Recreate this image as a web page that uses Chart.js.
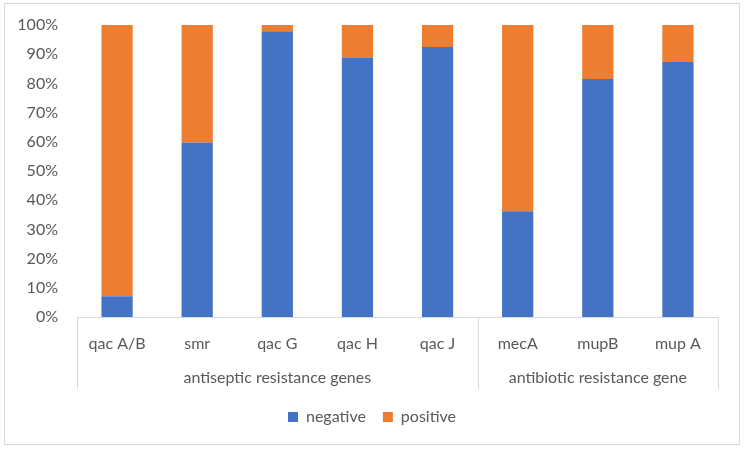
<!DOCTYPE html>
<html>
<head>
<meta charset="utf-8">
<script src="https://cdn.jsdelivr.net/npm/chart.js@4"></script>
<style>
  html, body { margin: 0; padding: 0; background: #fff; }
  #wrap { position: relative; width: 744px; height: 449px; }
</style>
</head>
<body>
<div id="wrap"><canvas id="c" width="744" height="449"></canvas></div>
<script>
/* Dados (percentuais por gene). */
const genes = ['qac A/B', 'smr', 'qac G', 'qac H', 'qac J', 'mecA', 'mupB', 'mup A'];
const negative = [7.1, 59.8, 97.9, 88.9, 92.5, 36.2, 81.5, 87.3];
const positive = [92.9, 40.2, 2.1, 11.1, 7.5, 63.8, 18.5, 12.7];
const groupLabels = ['antiseptic resistance genes', 'antibiotic resistance gene'];
const groupSizes = [5, 3];
const yTicks = [0, 10, 20, 30, 40, 50, 60, 70, 80, 90, 100];

const TEXT = '#595959';
const LINE = '#d9d9d9';
const FONT = 'Lato, "Open Sans", sans-serif';

/* Moldura do gráfico + linhas e rótulos de grupo sob o eixo X. */
const frameGroupsPlugin = {
  id: 'frameGroups',
  beforeDraw(chart) {
    const { ctx, width, height } = chart;
    ctx.save();
    ctx.fillStyle = '#fff';
    ctx.fillRect(0, 0, width, height);
    ctx.strokeStyle = LINE;
    ctx.lineWidth = 1;
    ctx.strokeRect(4.5, 3.5, width - 9, height - 8);
    ctx.restore();
  },
  afterDraw(chart) {
    const { ctx, chartArea, scales } = chart;
    const x = scales.x;
    const half = (x.getPixelForValue(1) - x.getPixelForValue(0)) / 2;
    const bottom = chartArea.bottom;
    const lineEnd = bottom + 72;
    ctx.save();
    ctx.strokeStyle = LINE;
    ctx.lineWidth = 1;
    ctx.font = '16px ' + FONT;
    ctx.fillStyle = TEXT;
    ctx.textAlign = 'center';
    ctx.textBaseline = 'middle';
    let start = 0;
    const edges = [x.getPixelForValue(0) - half];
    groupSizes.forEach((n, g) => {
      const l = x.getPixelForValue(start) - half;
      const r = x.getPixelForValue(start + n - 1) + half;
      edges.push(r);
      ctx.fillText(groupLabels[g], (l + r) / 2, bottom + 61);
      start += n;
    });
    edges.forEach(px => {
      const xx = Math.round(px) + 0.5;
      ctx.beginPath();
      ctx.moveTo(xx, bottom);
      ctx.lineTo(xx, lineEnd);
      ctx.stroke();
    });
    ctx.restore();
  },
};

new Chart(document.getElementById('c').getContext('2d'), {
  type: 'bar',
  plugins: [frameGroupsPlugin],
  data: {
    labels: genes,
    datasets: [
      { label: 'negative', data: negative, backgroundColor: '#4472c4', borderWidth: 0 },
      { label: 'positive', data: positive, backgroundColor: '#ed7d31', borderWidth: 0 },
    ],
  },
  options: {
    responsive: false,
    animation: false,
    datasets: { bar: { categoryPercentage: 1, barPercentage: 0.39 } },
    layout: { padding: { left: 0, right: 0, top: 0, bottom: 14 } },
    scales: {
      x: {
        stacked: true,
        grid: { display: false, drawTicks: false },
        border: { display: true, color: LINE },
        ticks: { color: TEXT, font: { size: 16, family: FONT }, padding: 17, maxRotation: 0 },
        afterFit: s => { s.height = 75; },
      },
      y: {
        stacked: true,
        min: 0, max: 100,
        afterBuildTicks: s => { s.ticks = yTicks.map(v => ({ value: v })); },
        grid: { display: false, drawTicks: false },
        border: { display: false },
        ticks: { color: TEXT, font: { size: 16, family: FONT }, padding: 19, callback: v => v + '%' },
        afterFit: s => { s.width = 77; s.paddingTop = 25; },
      },
      // eixo vazio à direita só para reservar a margem (mantém a legenda centrada)
      yRight: {
        position: 'right',
        min: 0, max: 100,
        grid: { display: false, drawTicks: false },
        border: { display: false },
        ticks: { display: false },
        afterFit: s => { s.width = 26; },
      },
    },
    plugins: {
      legend: {
        position: 'bottom',
        labels: { color: TEXT, font: { size: 16, family: FONT }, boxWidth: 10, boxHeight: 10, padding: 17 },
      },
      tooltip: { enabled: false },
    },
  },
});
</script>
</body>
</html>
